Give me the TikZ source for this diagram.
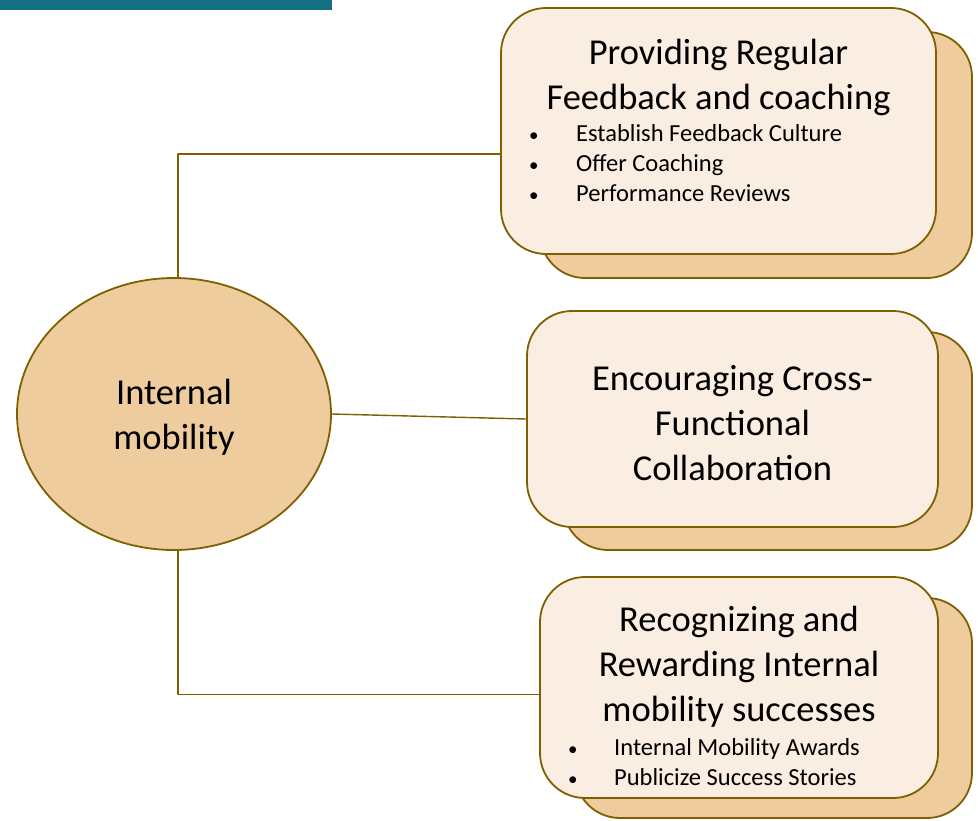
\documentclass[tikz,border=0pt]{standalone}
\usepackage{fontspec}
\setmainfont{Carlito}
\usepackage{tikz}
\usetikzlibrary{positioning,calc,shapes.geometric}
\definecolor{mobborder}{HTML}{7F6000}
\definecolor{mobtan}{HTML}{EECC9E}
\definecolor{mobcream}{HTML}{FAEDE1}
\definecolor{mobteal}{HTML}{136F82}
\newcommand{\mobdot}{{\fontsize{19}{30}\selectfont•}}
\tikzset{
	mobility map/.style={
		x=1pt,y=-1pt,
		every path/.style={line join=round},
		connector/.style={mobborder,line width=1.4pt},
		big text/.style={font=\fontsize{36.5}{45}\selectfont}
	},
	hub/.style={
		ellipse,
		draw=mobborder,
		line width=1.8pt,
		fill=mobtan,
		inner sep=0pt
	},
	card/.style 2 args={% width, height
		rectangle,
		rounded corners=45pt,
		draw=mobborder,
		line width=1.8pt,
		fill=mobcream,
		minimum width=#1,
		minimum height=#2,
		inner sep=0pt
	},
	card shadow/.style 2 args={% width, height
		card={#1}{#2},
		fill=mobtan
	},
	card title/.style={
		big text,
		align=center,
		inner sep=0pt
	},
	card bullets/.style={
		anchor=west,
		inner sep=0pt,
		font=\fontsize{24.5}{30}\selectfont
	}
}

\begin{document}
\begin{tikzpicture}[mobility map]
	\useasboundingbox (0,0) rectangle (978,820);
	\fill[mobteal] (0,0) rectangle (332,10);
	% back cards
	\node[card shadow={432pt}{246pt}] (back1) at (756,155) {};
	\node[card shadow={409pt}{218pt}] (back2) at (767.5,441) {};
	\node[card shadow={397pt}{220pt}] (back3) at (773.5,708) {};
	% front cards
	\node[card={435pt}{246pt}] (card1) at (718.5,131) {};
	\node[card={411pt}{216pt}] (card2) at (732.5,419) {};
	\node[card={398pt}{221pt}] (card3) at (739,687.5) {};
	% hub
	\node[hub,minimum width=314pt,minimum height=272pt] (hub) at (174,414) {};
	\node[card title,align=center] (hubtext) at ([yshift=-3pt]hub.center) {Internal\\mobility};
	% connectors
	\draw[connector] ([xshift=4pt]hub.north) |- (card1.186);
	\draw[connector] (hub.east) -- (card2.west);
	\draw[connector] ([xshift=4pt]hub.south) |- (card3.182);
	% titles
	\node[card title] (title1) at (718.5,77) {Providing Regular\\Feedback and coaching};
	\node[card title] (title2) at (732.5,423) {Encouraging Cross-\\Functional\\Collaboration};
	\node[card title] (title3) at (739,667) {Recognizing and\\Rewarding Internal\\mobility successes};
	% bullet lists
	\node[card bullets] (list1) at (529,165) {%
		\begin{tabular}{@{}p{47pt}@{}l@{}}
			\mobdot&Establish Feedback Culture\\
			\mobdot&Offer Coaching\\
			\mobdot&Performance Reviews
		\end{tabular}};
	\node[card bullets] (list3) at (568,764) {%
		\begin{tabular}{@{}p{46pt}@{}l@{}}
			\mobdot&Internal Mobility Awards\\
			\mobdot&Publicize Success Stories
		\end{tabular}};
\end{tikzpicture}
\end{document}
